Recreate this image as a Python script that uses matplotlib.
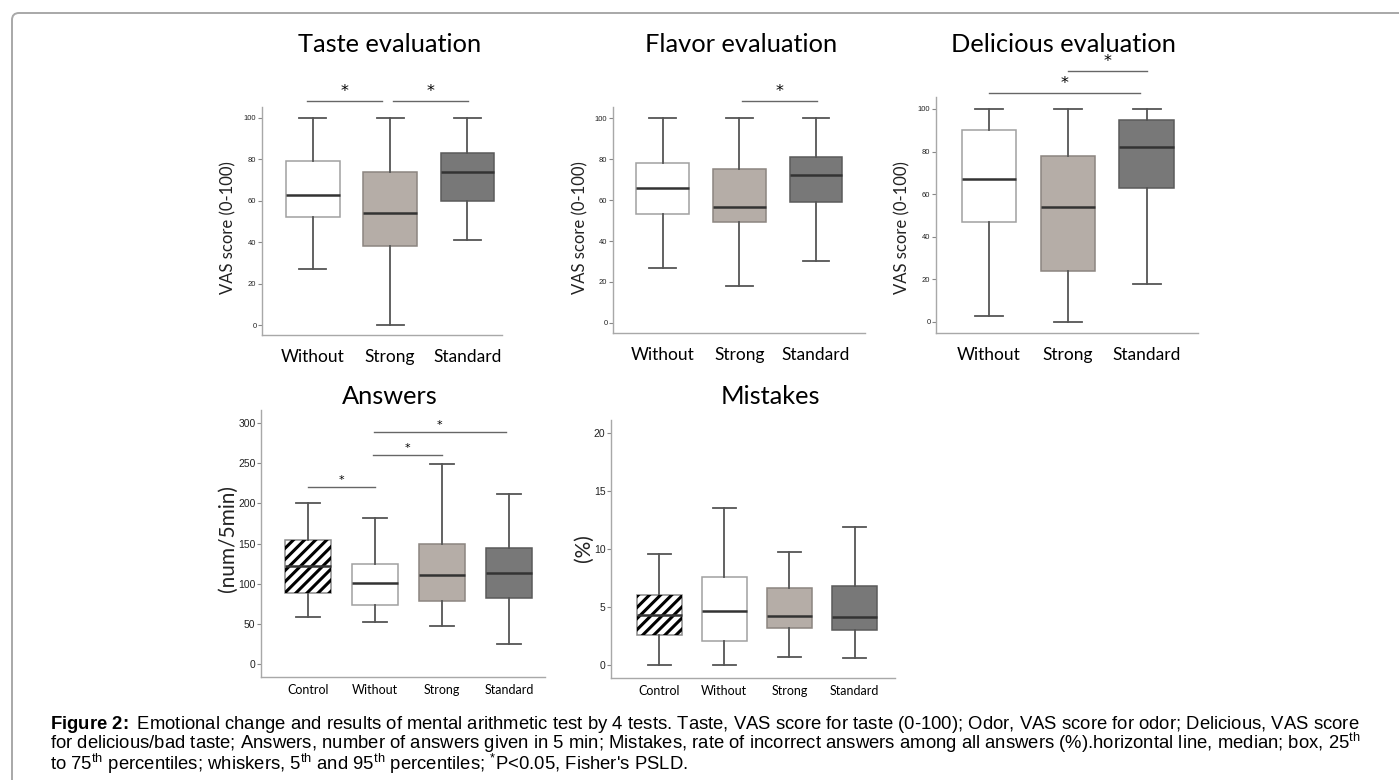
import numpy as np
import matplotlib
matplotlib.use('Agg')
import matplotlib.pyplot as plt
from matplotlib.patches import FancyBboxPatch, PathPatch

W, H = 1399, 780

groups3 = ['Without', 'Strong', 'Standard']
groups4 = ['Control', 'Without', 'Strong', 'Standard']

# each row: whisker low, q1, median, q3, whisker high
taste = [[27, 52, 63, 79, 100], [0, 38, 54, 74, 100], [41, 60, 74, 83, 100]]
flavor = [[27, 53, 66, 78, 100], [18, 49.5, 56.5, 75, 100], [30, 59, 72, 81, 100]]
delicious = [[3, 47, 67, 90, 100], [0, 24, 54, 78, 100], [18, 63, 82, 95, 100]]
answers = [[58, 89, 122, 154, 200], [52, 74, 101, 125, 182],
           [47, 78, 111, 149, 249], [25, 82, 113, 145, 211]]
mistakes = [[0, 2.55, 4.3, 6.0, 9.6], [0, 2.05, 4.65, 7.55, 13.5],
            [0.7, 3.15, 4.2, 6.65, 9.75], [0.6, 3.0, 4.15, 6.8, 11.9]]

# significance bars: (from, to, height)
taste_sig = [(0.92, 1.90, 108), (2.04, 3.01, 108)]
flavor_sig = [(2.04, 3.01, 108.3)]
delicious_sig = [(2.0, 3.0, 117.8), (1.0, 2.92, 107.5)]
answers_sig = [(1.0, 2.0, 220), (1.97, 3.0, 260), (1.98, 3.96, 289)]

fills = {'Control': 'white', 'Without': 'white', 'Strong': '#b5ada7', 'Standard': '#787878'}
edges = {'Control': '#8a8a8a', 'Without': '#a0a0a0', 'Strong': '#8c8580', 'Standard': '#5a5a5a'}

plt.rcParams['font.family'] = ['Lato', 'DejaVu Sans']
plt.rcParams['hatch.linewidth'] = 2.2
plt.rcParams['mathtext.fontset'] = 'custom'
plt.rcParams['mathtext.rm'] = 'Liberation Sans'
plt.rcParams['mathtext.it'] = 'Liberation Sans:italic'
plt.rcParams['mathtext.bf'] = 'Liberation Sans:bold'

fig = plt.figure(figsize=(W / 100, H / 100), dpi=100)


def add_ax(l, t, r, b):
    return fig.add_axes([l / W, 1 - b / H, (r - l) / W, (b - t) / H])


def panel(box, data, names, ylim, xlim, yticks, sig, small):
    ax = add_ax(*box)
    stats = [dict(whislo=d[0], q1=d[1], med=d[2], q3=d[3], whishi=d[4]) for d in data]
    pos = np.arange(1, len(data) + 1)
    bp = ax.bxp(stats, positions=pos, widths=0.69, capwidths=0.35, patch_artist=True,
                showfliers=False, manage_ticks=False,
                whiskerprops=dict(color='#555555', lw=1.3),
                capprops=dict(color='#555555', lw=1.3),
                medianprops=dict(color='#333333', lw=1.8))
    for b, n in zip(bp['boxes'], names):
        b.set_facecolor(fills[n])
        b.set_edgecolor(edges[n])
        b.set_linewidth(1.1)
        if n == 'Control':
            ax.add_patch(PathPatch(b.get_path(), transform=b.get_transform(), facecolor='none',
                                   edgecolor='black', hatch='///', lw=0, zorder=b.get_zorder() + 0.1))
    for m in bp['medians']:
        m.set_zorder(5)
    ax.set_ylim(*ylim)
    ax.set_xlim(*xlim)
    ax.set_yticks(yticks)
    ax.set_xticks(pos)
    if small:
        ax.set_xticklabels(names, fontsize=9)
        ax.tick_params(axis='x', length=0, pad=5)
        ax.tick_params(axis='y', labelsize=7.5)
    else:
        ax.set_xticklabels(names, fontsize=12.5)
        ax.tick_params(axis='x', length=0, pad=10)
        ax.tick_params(axis='y', labelsize=5.5)
    ax.tick_params(axis='y', length=3, color='#888888', labelcolor='#222222', pad=1)
    for lab in ax.get_yticklabels():
        lab.set_fontfamily('Liberation Sans')
    for s in ['top', 'right']:
        ax.spines[s].set_visible(False)
    for s in ['left', 'bottom']:
        ax.spines[s].set_color('#a8a8a8')
        ax.spines[s].set_linewidth(1.0)
    for x1, x2, y in sig:
        ax.plot([x1, x2], [y, y], color='#666666', lw=1.0, clip_on=False)
        ax.annotate('*', xy=((x1 + x2) / 2, y), xytext=(0, 1.5), textcoords='offset points',
                    ha='center', va='bottom', fontsize=8 if small else 11.5,
                    fontfamily='DejaVu Sans', annotation_clip=False)
    return ax


panel((262, 107, 502, 335), taste, groups3, (-4.8, 105.3), (0.34, 3.45), range(0, 101, 20), taste_sig, False)
panel((613, 107, 865, 333), flavor, groups3, (-4.9, 105.4), (0.35, 3.64), range(0, 101, 20), flavor_sig, False)
panel((936, 97, 1198, 333), delicious, groups3, (-5.2, 105.6), (0.33, 3.65), range(0, 101, 20), delicious_sig, False)
panel((261, 410, 545, 677), answers, groups4, (-16, 316), (0.30, 4.54), range(0, 301, 50), answers_sig, True)
panel((611, 420, 895, 678), mistakes, groups4, (-1.12, 21.1), (0.26, 4.62), range(0, 21, 5), [], True)

titles = [('Taste evaluation', 390, 45), ('Flavor evaluation', 741, 45), ('Delicious evaluation', 1063, 45),
          ('Answers', 390, 396), ('Mistakes', 770, 396)]
for t, x, y in titles:
    fig.text(x / W, 1 - y / H, t, ha='center', va='center', fontsize=18.3)

ylabels = [('VAS score (0-100)', 228, 228, 12), ('VAS score (0-100)', 580, 228, 12),
           ('VAS score (0-100)', 902, 228, 12), ('(num/5min)', 228, 539, 15), ('(%)', 584, 548, 15)]
for t, x, y, fs in ylabels:
    fig.text(x / W, 1 - y / H, t, ha='center', va='center', rotation=90, fontsize=fs, color='#222222')

# caption, one text block
cap = [r'$\mathbf{Figure\ 2\!:}$ Emotional change and results of mental arithmetic test by 4 tests. Taste, VAS score for taste (0-100); Odor, VAS score for odor; Delicious, VAS score',
       r'for delicious/bad taste; Answers, number of answers given in 5 min; Mistakes, rate of incorrect answers among all answers (%).horizontal line, median; box, 25$^{\mathrm{th}}$',
       r'to 75$^{\mathrm{th}}$ percentiles; whiskers, 5$^{\mathrm{th}}$ and 95$^{\mathrm{th}}$ percentiles; $^{*}$P<0.05, Fisher' + "'" + 's PSLD.']
fig.text(50 / W, 1 - 714 / H, '\n'.join(cap), ha='left', va='top', fontsize=13.3,
         fontfamily='Liberation Sans', linespacing=0.8)

frame = FancyBboxPatch((0.12, -1.0), 20, 8.67, boxstyle='round,pad=0,rounding_size=0.07',
                       fill=False, edgecolor='#a8a8a8', lw=1.4, transform=fig.dpi_scale_trans)
fig.patches.append(frame)

fig.savefig('out.png', dpi=100)
